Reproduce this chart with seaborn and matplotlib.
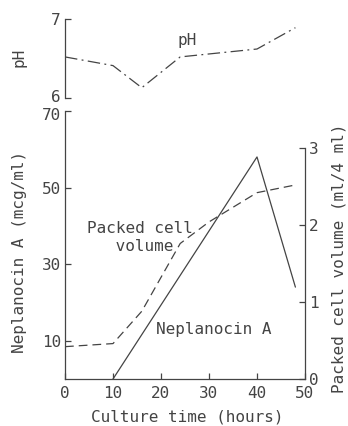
import matplotlib
matplotlib.use("Agg")
import matplotlib.pyplot as plt
import matplotlib.transforms as mtransforms
import seaborn as sns
import pandas as pd

# ---- data ----
ph_time = [0, 10, 16, 24, 40, 48]
ph_value = [6.52, 6.41, 6.13, 6.52, 6.62, 6.89]

nep_time = [10, 40, 48]
nep_value = [0, 58, 24]

pcv_time = [0, 10, 16, 24, 30, 40, 48]
pcv_value = [0.42, 0.46, 0.88, 1.76, 2.04, 2.42, 2.52]

x_ticks = [0, 10, 20, 30, 40, 50]
left_ticks = [10, 30, 50, 70]
right_ticks = [0, 1, 2, 3]
ph_ticks = [6, 7]

sns.set_style("ticks")
plt.rcParams['font.family'] = ['DejaVu Sans Mono', 'DejaVu Sans']
INK = '#444444'
FS = 11.5
plt.rcParams.update({'text.color': INK, 'axes.labelcolor': INK,
                     'xtick.color': INK, 'ytick.color': INK,
                     'axes.edgecolor': INK, 'axes.linewidth': 0.9})

fig = plt.figure(figsize=(3.48, 4.26), dpi=100)

# main axes
ax = fig.add_axes([65/348, 47/426, 240/348, 268/426])
ax2 = ax.twinx()
# pH axes
axp = fig.add_axes([65/348, 328/426, 240/348, 79/426])

df_ph = pd.DataFrame({'t': ph_time, 'v': ph_value})
df_nep = pd.DataFrame({'t': nep_time, 'v': nep_value})
df_pcv = pd.DataFrame({'t': pcv_time, 'v': pcv_value})

sns.lineplot(data=df_ph, x='t', y='v', ax=axp, color=INK, lw=0.9,
             estimator=None, sort=False)
axp.lines[0].set_dashes((10, 3.5, 1.5, 3.5))
sns.lineplot(data=df_nep, x='t', y='v', ax=ax, color=INK, lw=0.9,
             estimator=None, sort=False)
sns.lineplot(data=df_pcv, x='t', y='v', ax=ax2, color=INK, lw=0.9,
             estimator=None, sort=False)
ax2.lines[0].set_dashes((7, 4))

# main axes formatting
ax.set_xlim(0, 50)
ax.set_ylim(0, 70)
ax.set_xticks(x_ticks)
ax.set_yticks(left_ticks)
ax.tick_params(axis='both', direction='in', length=4, width=0.9, labelsize=FS)
ax.tick_params(axis='x', pad=5)
ax.tick_params(axis='y', pad=3)
ax.spines['top'].set_visible(False)
ax.spines['right'].set_visible(False)
ax.set_xlabel('Culture time (hours)', fontsize=FS)
ax.set_ylabel('Neplanocin A (mcg/ml)', fontsize=FS)
ax.xaxis.set_label_coords(0.51, -0.115)
ax.yaxis.set_label_coords(-0.16, 0.474)

ax2.set_ylim(0, 3 * 268 / 231)
ax2.set_yticks(right_ticks)
ax2.tick_params(axis='y', direction='in', length=4, width=0.9, labelsize=FS, pad=3)
for s in ['top', 'left', 'bottom']:
    ax2.spines[s].set_visible(False)
ax2.spines['right'].set_bounds(0, 3)
ax2.set_ylabel('Packed cell volume (ml/4 ml)', fontsize=FS)
ax2.yaxis.set_label_coords(1.112, 0.45)

# pH axes formatting
axp.set_xlim(0, 50)
axp.set_ylim(6, 7)
axp.set_yticks(ph_ticks)
axp.set_xticks([])
axp.tick_params(axis='y', direction='in', length=4, width=0.9, labelsize=FS, pad=3)
for s in ['top', 'right', 'bottom']:
    axp.spines[s].set_visible(False)
axp.set_xlabel('')
axp.set_ylabel('pH', fontsize=FS)
axp.yaxis.set_label_coords(-0.16, 0.52)
axp.patch.set_alpha(0)

# nudge the two crowded tick labels apart (as in the reference)
fig.canvas.draw()
up = mtransforms.ScaledTranslation(0, 2/100, fig.dpi_scale_trans)
down = mtransforms.ScaledTranslation(0, -3/100, fig.dpi_scale_trans)
for lab in axp.get_yticklabels():
    if lab.get_text() == '6':
        lab.set_transform(lab.get_transform() + up)
for lab in ax.get_yticklabels():
    if lab.get_text() == '70':
        lab.set_transform(lab.get_transform() + down)

# annotations
axp.text(25.4, 6.73, 'pH', ha='center', va='center', fontsize=FS)
ax.text(15.6, 37, 'Packed cell\n volume', ha='center', va='center', fontsize=FS,
        linespacing=1.25)
ax.text(31, 12.8, 'Neplanocin A', ha='center', va='center', fontsize=FS)

fig.savefig('out.png', dpi=100)
